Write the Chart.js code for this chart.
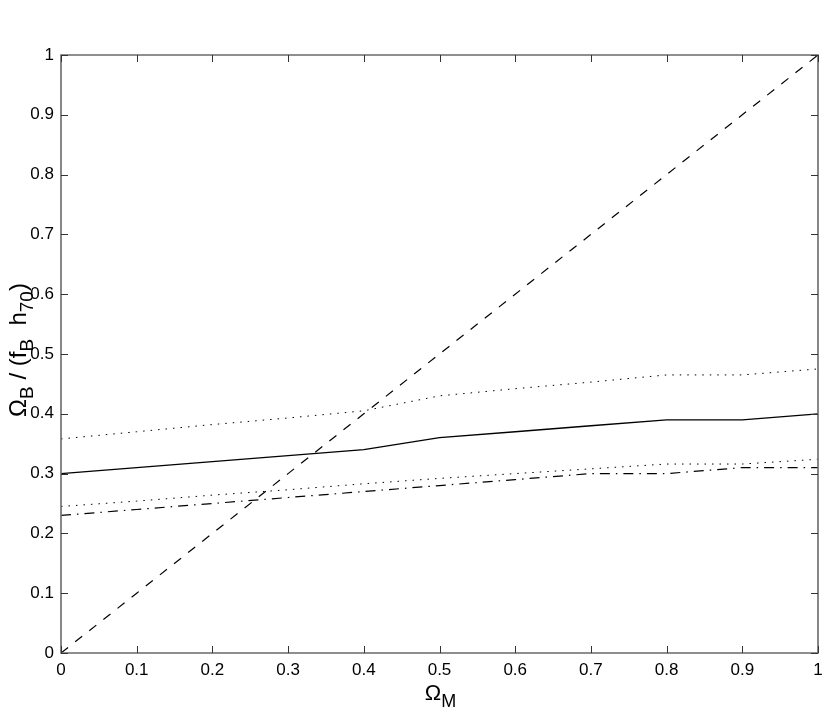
<!DOCTYPE html>
<html>
<head>
<meta charset="utf-8">
<script src="https://cdn.jsdelivr.net/npm/chart.js@4/dist/chart.umd.min.js"></script>
<style>
  html, body { margin: 0; padding: 0; background: #fff; }
  #wrap { width: 830px; height: 715px; }
</style>
</head>
<body>
<div id="wrap"><canvas id="c" width="830" height="715"></canvas></div>
<script>
// ---- data ----
const omegaM      = [0, 0.1, 0.2, 0.3, 0.4, 0.5, 0.6, 0.7, 0.8, 0.9, 1.0];
const solidLine   = [0.300, 0.310, 0.320, 0.330, 0.340, 0.360, 0.370, 0.380, 0.390, 0.390, 0.400];
const upperDotted = [0.358, 0.370, 0.382, 0.393, 0.405, 0.430, 0.442, 0.453, 0.465, 0.465, 0.475];
const lowerDotted = [0.245, 0.254, 0.264, 0.273, 0.283, 0.292, 0.300, 0.308, 0.316, 0.316, 0.324];
const dashDotLine = [0.230, 0.240, 0.250, 0.260, 0.270, 0.280, 0.290, 0.300, 0.300, 0.310, 0.310];
const diagonal    = [0, 0.1, 0.2, 0.3, 0.4, 0.5, 0.6, 0.7, 0.8, 0.9, 1.0];
const xTickLabels = ['0', '0.1', '0.2', '0.3', '0.4', '0.5', '0.6', '0.7', '0.8', '0.9', '1'];
const yTickLabels = ['0', '0.1', '0.2', '0.3', '0.4', '0.5', '0.6', '0.7', '0.8', '0.9', '1'];

const FONT = "'Liberation Sans', Arial, Helvetica, sans-serif";
const pts = ys => omegaM.map((x, i) => ({ x: x, y: ys[i] }));

function ds(ys, dash, width) {
  return {
    data: pts(ys), showLine: true, borderColor: '#000', borderWidth: width || 1,
    borderDash: dash, pointRadius: 0, tension: 0, fill: false
  };
}

const framePlugin = {
  id: 'frame',
  afterDraw(chart) {
    const ctx = chart.ctx, a = chart.chartArea;
    const xs = chart.scales.x, ys = chart.scales.y;
    ctx.save();
    ctx.strokeStyle = '#6a6a6a';
    ctx.lineWidth = 1.6;
    ctx.beginPath();
    ctx.rect(a.left, a.top, a.right - a.left, a.bottom - a.top);
    ctx.stroke();
    const L = 7;
    ctx.strokeStyle = '#333';
    ctx.lineWidth = 1;
    ctx.beginPath();
    xs.ticks.forEach(t => {
      const px = Math.round(xs.getPixelForValue(t.value)) + 0.5;
      ctx.moveTo(px, a.bottom); ctx.lineTo(px, a.bottom - L);
      ctx.moveTo(px, a.top); ctx.lineTo(px, a.top + L);
    });
    ys.ticks.forEach(t => {
      const py = Math.round(ys.getPixelForValue(t.value)) + 0.5;
      ctx.moveTo(a.left, py); ctx.lineTo(a.left + L, py);
      ctx.moveTo(a.right, py); ctx.lineTo(a.right - L, py);
    });
    ctx.stroke();

    // axis titles with subscripts
    function drawParts(parts, cx, cy, rot, bigSize, smallSize, subOff) {
      const big = bigSize + "px " + FONT, small = smallSize + "px " + FONT;
      ctx.save();
      ctx.translate(cx, cy);
      ctx.rotate(rot);
      let total = 0;
      parts.forEach(p => { ctx.font = p.sub ? small : big; total += ctx.measureText(p.t).width; });
      let x = -total / 2;
      ctx.fillStyle = '#000';
      ctx.textBaseline = 'alphabetic';
      parts.forEach(p => {
        ctx.font = p.sub ? small : big;
        ctx.fillText(p.t, x, p.sub ? subOff : 0);
        x += ctx.measureText(p.t).width;
      });
      ctx.restore();
    }
    const midX = (a.left + a.right) / 2;
    drawParts([{ t: 'Ω' }, { t: 'M', sub: true }], midX + 1, 700, 0, 22, 18, 7);
    const midY = (a.top + a.bottom) / 2;
    drawParts([{ t: 'Ω' }, { t: 'B', sub: true }, { t: ' / (f' }, { t: 'B', sub: true },
               { t: '  h' }, { t: '70', sub: true }, { t: ')' }], 26, midY - 4, -Math.PI / 2, 24, 19, 7);
    ctx.restore();
  }
};

new Chart(document.getElementById('c'), {
  type: 'scatter',
  data: {
    datasets: [
      ds(diagonal, [9, 9], 1.2),
      ds(solidLine, [], 1.3),
      ds(upperDotted, [1.5, 6]),
      ds(lowerDotted, [1.5, 6]),
      ds(dashDotLine, [10, 6, 1.5, 6], 1.2)
    ]
  },
  options: {
    responsive: false,
    animation: false,
    layout: { padding: { left: 0, right: 12, top: 55, bottom: 0 } },
    plugins: { legend: { display: false }, title: { display: false }, tooltip: { enabled: false } },
    scales: {
      x: {
        type: 'linear', min: 0, max: 1,
        grid: { display: false, drawTicks: false },
        border: { display: false },
        ticks: {
          stepSize: 0.1, padding: 7, maxRotation: 0, autoSkip: false,
          color: '#000', font: { family: FONT, size: 17 },
          callback: (v, i) => xTickLabels[i]
        },
        afterFit(s) { s.height = 62; }
      },
      y: {
        type: 'linear', min: 0, max: 1,
        grid: { display: false, drawTicks: false },
        border: { display: false },
        ticks: {
          stepSize: 0.1, padding: 7, autoSkip: false,
          color: '#000', font: { family: FONT, size: 17 },
          callback: (v, i) => yTickLabels[i]
        },
        afterFit(s) { s.width = 61; }
      }
    }
  },
  plugins: [framePlugin]
});
</script>
</body>
</html>
